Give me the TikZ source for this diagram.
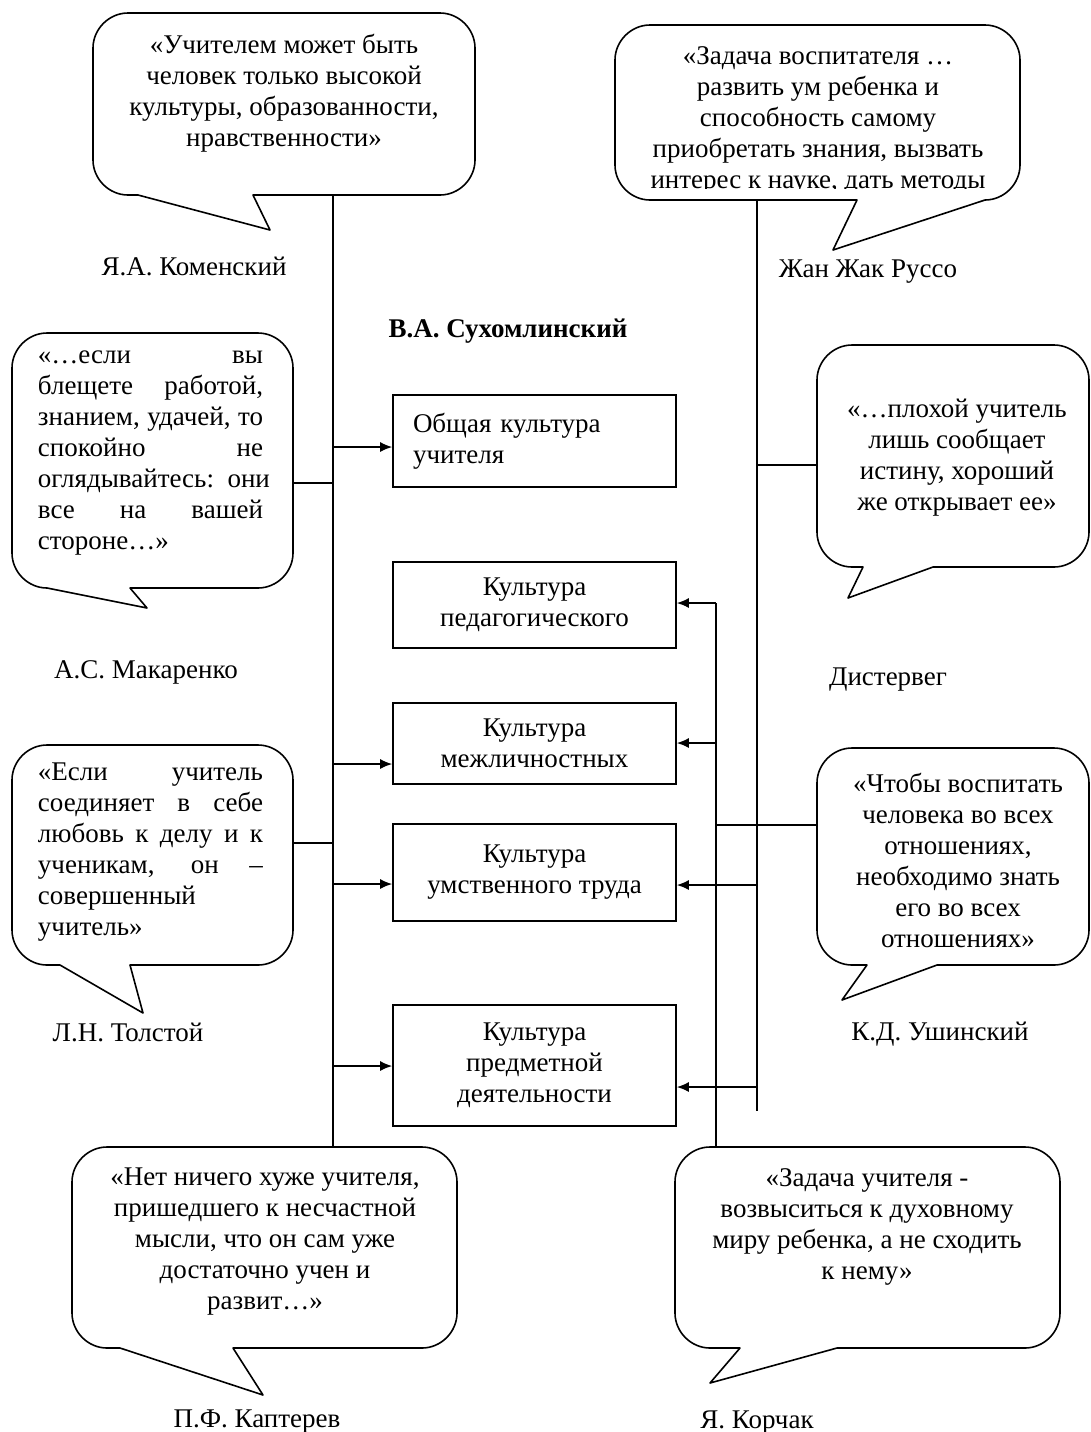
\documentclass[tikz,border=0pt]{standalone}
\usepackage{fontspec}
\setmainfont{Liberation Serif}
\usetikzlibrary{arrows.meta}
\newcommand\mybubble[8]{%
  \draw[bub] ({#1+35},#2) -- ({#3-35},#2)
    .. controls ({#3-16},#2) and (#3,{#2+16}) .. (#3,{#2+35})
    -- (#3,{#4-35})
    .. controls (#3,{#4-16}) and ({#3-16},#4) .. ({#3-35},#4)
    -- (#5,#4) -- (#6,#7) -- (#8,#4) -- ({#1+35},#4)
    .. controls ({#1+16},#4) and (#1,{#4-16}) .. (#1,{#4-35})
    -- (#1,{#2+35})
    .. controls (#1,{#2+16}) and ({#1+16},#2) .. ({#1+35},#2) -- cycle;}
\newcommand\jl[1]{\makebox[112.5pt][s]{\spaceskip=0.25em plus 20em minus 0.05em\relax #1}}
\newcommand\qfont{\fontsize{13.5}{15.5}\selectfont}
\begin{document}
\begin{tikzpicture}[x=0.5pt,y=-0.5pt,line width=0.8pt,
  bub/.style={draw,fill=white,line join=round},
  qt/.style={font=\qfont,inner sep=0pt,align=center},
  qj/.style={font=\qfont,inner sep=0pt,align=left,text width=112.5pt},
  who/.style={font=\qfont,inner sep=0pt,anchor=base},
  cbox/.style={draw,font=\qfont,minimum width=141.5pt,inner xsep=0pt,inner ysep=0pt,align=center},
  arr/.style={-{Latex[length=6pt,width=5pt]}}]
\useasboundingbox (0,0) rectangle (1091,1432);
\fill[white] (0,0) rectangle (1091,1432);

% callouts
\mybubble{93}{13}{475}{195}{253}{270}{230}{138}
\mybubble{615}{25}{1020}{200}{985}{833}{250}{857}
\mybubble{12}{333}{293}{588}{130}{147}{608}{47}
\mybubble{817}{345}{1089}{567}{933}{848}{598}{863}
\mybubble{12}{745}{293}{965}{130}{143}{1013}{60}
\mybubble{817}{748}{1089}{965}{937}{842}{1000}{867}
\mybubble{72}{1147}{457}{1348}{233}{263}{1395}{120}
\mybubble{675}{1147}{1060}{1348}{837}{710}{1383}{740}

% quote texts
\node[qt] (komT) at (284,93) {«Учителем может быть\\человек только высокой\\культуры, образованности,\\нравственности»};
\begin{scope}
\clip (615,25) rectangle (1020,188);
\node[qt] (rusT) at (818,120) {«Задача воспитателя …\\развить ум ребенка и\\способность самому\\приобретать знания, вызвать\\интерес к науке, дать методы};
\end{scope}
\node[qj] (makT) at (150.5,453.5) {\jl{«…если вы}\\\jl{блещете работой,}\\\jl{знанием, удачей, то}\\\jl{спокойно не}\\\jl{оглядывайтесь: они}\\\jl{все на вашей}\\стороне…»};
\node[qt] (disT) at (957,458) {«…плохой учитель\\лишь сообщает\\истину, хороший\\же открывает ее»};
\node[qj] (tolT) at (150.5,852.5) {\jl{«Если учитель}\\\jl{соединяет в себе}\\\jl{любовь к делу и к}\\\jl{ученикам, он –}\\совершенный\\учитель»};
\node[qt] (ushT) at (958,860) {«Чтобы воспитать\\человека во всех\\отношениях,\\необходимо знать\\его во всех\\отношениях»};
\node[qt] (kapT) at (265,1241.5) {«Нет ничего хуже учителя,\\пришедшего к несчастной\\мысли, что он сам уже\\достаточно учен и\\развит…»};
\node[qt] (korT) at (867,1226.5) {«Задача учителя -\\возвыситься к духовному\\миру ребенка, а не сходить\\к нему»};

% authors
\node[who] (komN) at (194,275) {Я.А. Коменский};
\node[who] (rusN) at (868,277) {Жан Жак Руссо};
\node[who] (makN) at (146,678) {А.С. Макаренко};
\node[who] (disN) at (888,685) {Дистервег};
\node[who] (tolN) at (128,1041) {Л.Н. Толстой};
\node[who] (ushN) at (940,1040) {К.Д. Ушинский};
\node[who] (kapN) at (257,1427) {П.Ф. Каптерев};
\node[who] (korN) at (757,1428) {Я. Корчак};

\node[who,font=\qfont\bfseries] (title) at (508,337) {В.А. Сухомлинский};

% boxes
\node[draw,font=\qfont,text width=121.5pt,inner xsep=10pt,inner ysep=0pt,minimum height=46pt,align=left] (b1) at (534.5,441) {Общая культура\\учителя};
\node[cbox,minimum height=43pt] (b2) at (534.5,605) {Культура\\педагогического};
\node[cbox,minimum height=40.5pt] (b3) at (534.5,743.5) {Культура\\межличностных};
\node[cbox,minimum height=48.5pt] (b4) at (534.5,872.5) {Культура\\умственного труда};
\node[cbox,minimum height=60.5pt] (b5) at (534.5,1065.5) {Культура\\предметной\\деятельности};

% connection points
\coordinate (komB) at (333,195);
\coordinate (kapTop) at (333,1147);
\coordinate (makE) at (293,483);
\coordinate (tolE) at (293,843);
\coordinate (rusB) at (757,200);
\coordinate (rEnd) at (757,1111);
\coordinate (disW) at (817,465);
\coordinate (ushW) at (817,825);
\coordinate (korTop) at (716,1147);
\coordinate (r2Top) at (716,603);

% left spine
\draw (komB) -- (kapTop);
\draw (makE) -- (makE -| komB);
\draw (tolE) -- (tolE -| komB);
\coordinate (jl1) at (333,447);
\coordinate (jl3) at (333,764);
\coordinate (jl4) at (333,884);
\coordinate (jl5) at (333,1066);
\draw[arr] (jl1) -- (jl1 -| b1.west);
\draw[arr] (jl3) -- (jl3 -| b3.west);
\draw[arr] (jl4) -- (jl4 -| b4.west);
\draw[arr] (jl5) -- (jl5 -| b5.west);

% right spine 1
\draw (rusB) -- (rEnd);
\draw (disW) -- (disW -| rusB);
\coordinate (jr4) at (757,885);
\coordinate (jr5) at (757,1087);
\draw[arr] (jr4) -- (jr4 -| b4.east);
\draw[arr] (jr5) -- (jr5 -| b5.east);

% right spine 2
\draw (r2Top) -- (korTop);
\draw[arr] (r2Top) -- (r2Top -| b2.east);
\coordinate (jr3) at (716,743);
\draw[arr] (jr3) -- (jr3 -| b3.east);
\draw (ushW) -- (ushW -| korTop);
\end{tikzpicture}
\end{document}
